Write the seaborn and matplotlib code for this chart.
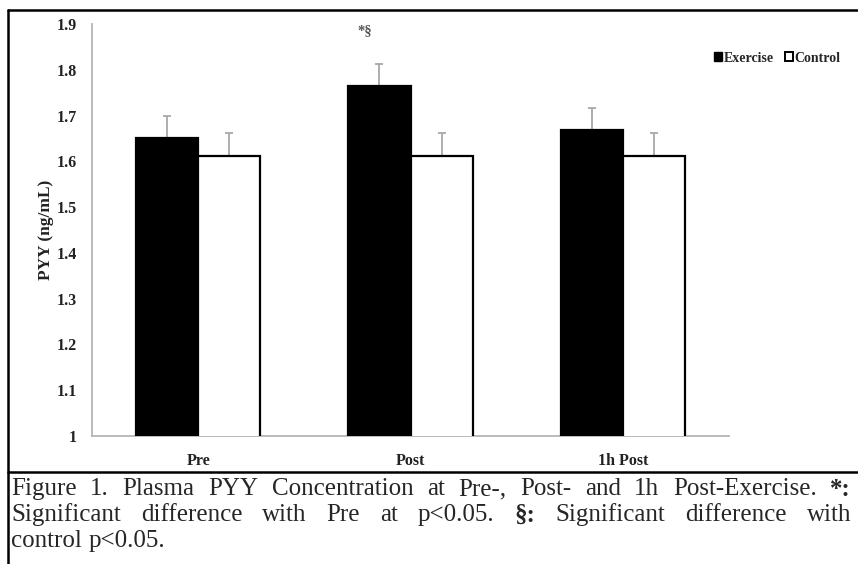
import matplotlib
matplotlib.use("Agg")
import matplotlib.pyplot as plt
from matplotlib.lines import Line2D
from matplotlib.patches import Patch
import seaborn as sns
import pandas as pd
import numpy as np

# ---- data ----
categories = ["Pre", "Post", "1h Post"]
groups = ["Exercise", "Control"]
exercise_mean = [1.65, 1.764, 1.668]
control_mean = [1.612, 1.612, 1.612]
exercise_se = [0.048, 0.048, 0.048]
control_se = [0.05, 0.05, 0.05]
yticks = [1.0, 1.1, 1.2, 1.3, 1.4, 1.5, 1.6, 1.7, 1.8, 1.9]
ytick_labels = ["1", "1.1", "1.2", "1.3", "1.4", "1.5", "1.6", "1.7", "1.8", "1.9"]
annotation = "*§"
caption_lines = [
    [("Figure", 0), ("1.", 0), ("Plasma", 0), ("PYY", 0), ("Concentration", 0), ("at", 0),
     ("Pre-,", 0), ("Post-", 0), ("and", 0), ("1h", 0), ("Post-Exercise.", 0), ("*:", 1)],
    [("Significant", 0), ("difference", 0), ("with", 0), ("Pre", 0), ("at", 0),
     ("p<0.05.", 0), ("§:", 1), ("Significant", 0), ("difference", 0), ("with", 0)],
    [("control", 0), ("p<0.05.", 0)],
]

df = pd.DataFrame({
    "cat": categories * 2,
    "group": ["Exercise"] * 3 + ["Control"] * 3,
    "value": exercise_mean + control_mean,
})

sns.set_style("white")
SERIF = ["Liberation Serif", "DejaVu Serif"]
plt.rcParams["font.family"] = SERIF

W, H = 858, 564
fig = plt.figure(figsize=(W / 100, H / 100), dpi=100)
ax = fig.add_axes([92 / W, (H - 436) / H, (729 - 92) / W, (436 - 24) / H])

sns.barplot(data=df, x="cat", y="value", hue="group", order=categories,
            hue_order=groups, palette={"Exercise": "black", "Control": "white"},
            edgecolor="black", linewidth=1.6, width=0.585, legend=False, ax=ax,
            errorbar=None, zorder=3)

# error bars (upward only)
ses = [exercise_se, control_se]
for cont, se in zip(ax.containers, ses):
    xs = [b.get_x() + b.get_width() / 2 for b in cont]
    ys = [b.get_height() for b in cont]
    ax.errorbar(xs, ys, yerr=[np.zeros(len(se)), se], fmt="none",
                ecolor="#a8a8a8", elinewidth=1.3, capsize=3, capthick=1.3, zorder=2)

ax.set_ylim(1.0, 1.9)
ax.set_xlim(-0.5, 2.5)
ax.set_yticks(yticks)
ax.set_yticklabels(ytick_labels, fontweight="bold", fontsize=11.5, color="#222222")
ax.set_xticks(range(len(categories)))
ax.set_xticklabels(categories, fontweight="bold", fontsize=11.5, color="#222222")
ax.set_xticks([0.5, 1.5, 2.5], minor=True)
ax.tick_params(axis="x", which="major", length=0, pad=12)
ax.tick_params(axis="x", which="minor", length=4, color="#aaaaaa", width=1)
ax.tick_params(axis="y", length=4, color="#aaaaaa", width=1, pad=7)
ax.set_xlabel("")
ax.set_ylabel("PYY (ng/mL)", fontweight="bold", fontsize=12.5, labelpad=2, color="#222222")
for s in ["top", "right"]:
    ax.spines[s].set_visible(False)
for s in ["left", "bottom"]:
    ax.spines[s].set_color("#b5b5b5")
    ax.spines[s].set_linewidth(1.3)

# significance marker above Post exercise bar
post_bar = ax.containers[0][1]
ax.text(post_bar.get_x() + post_bar.get_width() * 0.27, 1.886, annotation,
        ha="center", va="center", fontsize=10.5, color="#555555", fontweight="bold")

# legend
handles = [Patch(facecolor="black", edgecolor="black", label="Exercise"),
           Patch(facecolor="white", edgecolor="black", linewidth=1.4, label="Control")]
fig.legend(handles=handles, loc="center right", bbox_to_anchor=(853 / W, (H - 58) / H),
           ncol=2, frameon=False, handlelength=0.6, handleheight=0.6, handletextpad=0.1,
           columnspacing=0.8, prop={"family": SERIF, "weight": "bold", "size": 10})

# border lines
lw = 1.8
fig.add_artist(Line2D([8 / W, 8 / W], [0, 1 - 10 / H], color="black", lw=lw))
fig.add_artist(Line2D([8 / W, 857 / W], [1 - 10 / H, 1 - 10 / H], color="black", lw=lw))
fig.add_artist(Line2D([8 / W, 857 / W], [1 - 472 / H, 1 - 472 / H], color="black", lw=lw))

# caption with justification
renderer = fig.canvas.get_renderer()
x0, x1 = 11, 851
line_ys = [489, 515, 541]
fs = 18
for li, (words, yc) in enumerate(zip(caption_lines, line_ys)):
    texts = []
    for w, b in words:
        t = fig.text(0, 1 - yc / H, w, fontsize=fs, fontweight="bold" if b else "normal",
                     va="center", ha="left", family=SERIF)
        texts.append(t)
    widths = [t.get_window_extent(renderer).width for t in texts]
    if li < len(caption_lines) - 1:
        gap = (x1 - x0 - sum(widths)) / (len(words) - 1)
    else:
        sp = fig.text(0, 0, "a a", fontsize=fs, family=SERIF)
        sp2 = fig.text(0, 0, "aa", fontsize=fs, family=SERIF)
        gap = sp.get_window_extent(renderer).width - sp2.get_window_extent(renderer).width
        sp.remove(); sp2.remove()
    x = x0
    for t, wd in zip(texts, widths):
        t.set_x(x / W)
        x += wd + gap

fig.savefig("out.png", dpi=100)
